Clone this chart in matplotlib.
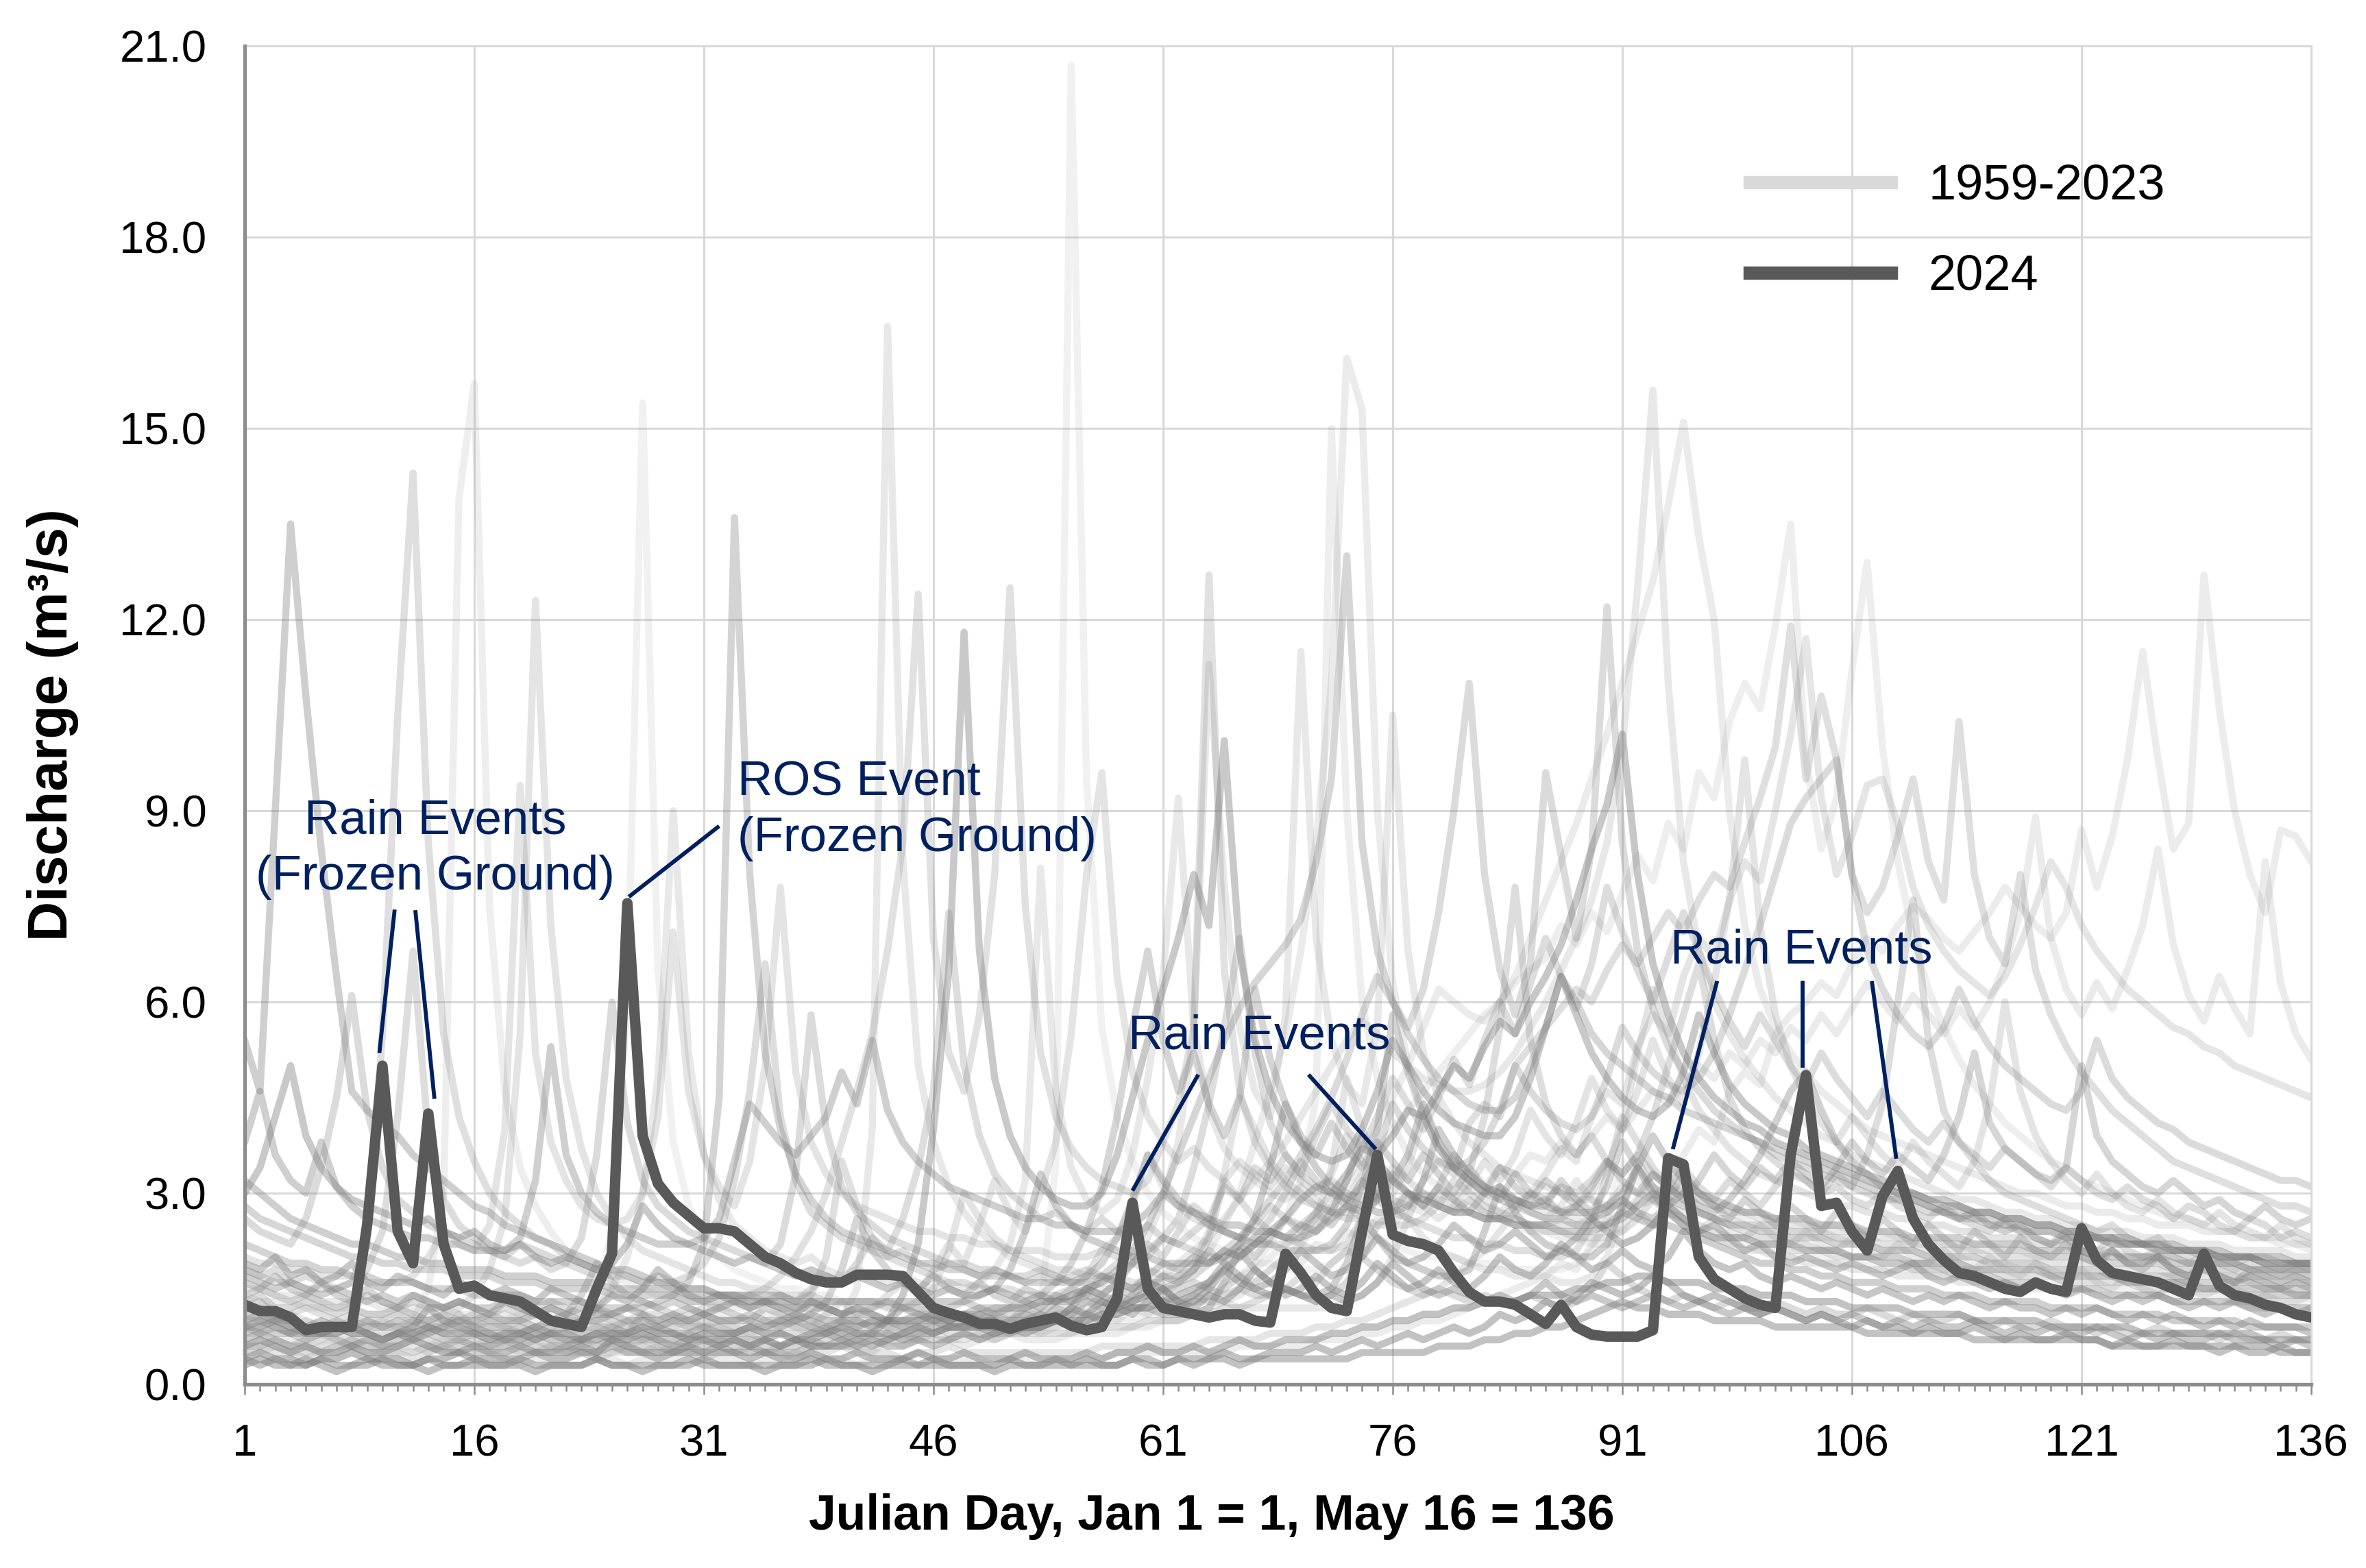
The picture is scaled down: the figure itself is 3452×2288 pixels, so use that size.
import matplotlib
matplotlib.use('Agg')
import matplotlib.pyplot as plt
from matplotlib.lines import Line2D
from matplotlib.ticker import MultipleLocator, FixedLocator, FormatStrFormatter

plt.rcParams['font.family'] = ['Liberation Sans', 'DejaVu Sans']

days = list(range(1, 137))

# 2024 daily discharge (m3/s), Jan 1 .. May 16
q_2024 = [
    1.25, 1.15, 1.15, 1.05, 0.85, 0.9, 0.9, 0.9, 2.5, 5.0, 2.4, 1.9, 4.25, 2.2, 1.5, 1.55, 1.4,
    1.35, 1.3, 1.15, 1.0, 0.95, 0.9, 1.5, 2.05, 7.55, 3.9, 3.15, 2.85, 2.65, 2.45, 2.45, 2.4, 2.2,
    2.0, 1.9, 1.75, 1.65, 1.6, 1.6, 1.72, 1.72, 1.72, 1.7, 1.45, 1.2, 1.12, 1.05, 0.95, 0.95, 0.87,
    0.95, 1.0, 1.05, 0.92, 0.85, 0.9, 1.35, 2.85, 1.5, 1.2, 1.15, 1.1, 1.05, 1.1, 1.1, 1.0, 0.97,
    2.05, 1.75, 1.4, 1.2, 1.15, 2.4, 3.6, 2.35, 2.25, 2.2, 2.1, 1.75, 1.45, 1.3, 1.3, 1.25, 1.1,
    0.95, 1.25, 0.9, 0.78, 0.75, 0.75, 0.75, 0.85, 3.55, 3.45, 2.0, 1.65, 1.5, 1.35, 1.25, 1.2, 3.6,
    4.85, 2.8, 2.85, 2.4, 2.1, 2.95, 3.35, 2.6, 2.2, 1.95, 1.75, 1.7, 1.6, 1.5, 1.45, 1.6, 1.5,
    1.45, 2.45, 1.95, 1.75, 1.7, 1.65, 1.6, 1.5, 1.4, 2.05, 1.55, 1.4, 1.35, 1.25, 1.2, 1.1, 1.05,
]

# a selection of the 1959-2023 years
bg_01 = [
    5.4, 4.6, 9.0, 13.5, 10.8, 8.4, 6.4, 4.6, 4.3, 4.1, 3.9, 3.6, 3.4, 3.2, 3.0, 2.8, 2.7,
    2.5, 2.4, 2.3, 2.2, 2.1, 2.0, 1.9, 1.8, 1.8, 1.7, 1.6, 1.6, 1.5, 1.5, 1.4, 1.4, 1.3,
    1.3, 1.3, 1.2, 1.2, 1.2, 1.1, 1.1, 1.1, 1.0, 1.0, 1.0, 1.0, 0.9, 0.9, 0.9, 0.9, 0.9,
    0.9, 0.9, 1.0, 1.2, 1.5, 1.4, 1.3, 1.2, 1.2, 1.1, 1.1, 1.1, 1.2, 1.6, 2.1, 1.8, 1.6,
    1.5, 1.4, 1.4, 1.5, 1.9, 2.6, 2.3, 2.0, 1.9, 1.8, 1.7, 1.7, 1.8, 2.4, 3.1, 2.7, 2.4,
    2.2, 2.1, 2.0, 2.0, 2.2, 2.8, 3.4, 3.0, 2.7, 2.5, 2.3, 2.2, 2.1, 2.0, 1.9, 1.9, 1.8,
    1.8, 1.7, 1.7, 1.6, 1.6, 1.6, 1.5, 1.5, 1.5, 1.4, 1.4, 1.4, 1.3, 1.3, 1.3, 1.3, 1.2,
    1.2, 1.2, 1.2, 1.1, 1.1, 1.1, 1.1, 1.0, 1.0, 1.0, 1.0, 1.0, 0.9, 0.9, 0.9, 0.9, 0.9,
]
bg_02 = [
    1.8, 1.7, 1.6, 1.6, 1.5, 1.5, 1.5, 1.6, 2.2, 5.5, 10.5, 14.3, 8.5, 5.5, 4.2, 3.5, 3.0,
    2.7, 2.5, 2.3, 2.2, 2.0, 1.9, 1.8, 1.7, 1.7, 1.6, 1.6, 1.5, 1.5, 1.5, 1.4, 1.4, 1.4,
    1.3, 1.3, 1.3, 1.4, 2.0, 3.5, 2.8, 2.3, 2.0, 1.9, 1.8, 1.7, 1.6, 1.6, 1.5, 1.5, 1.5,
    1.4, 1.4, 1.4, 1.5, 1.7, 2.1, 2.0, 1.9, 1.8, 1.7, 1.7, 1.8, 2.3, 3.2, 2.9, 2.6, 2.4,
    2.3, 2.2, 2.1, 2.1, 2.2, 2.6, 3.0, 2.8, 2.6, 2.5, 2.4, 2.3, 2.3, 2.2, 2.2, 2.1, 2.1,
    2.0, 2.0, 2.1, 2.5, 3.3, 4.2, 3.8, 3.4, 3.1, 2.9, 2.7, 2.6, 2.5, 2.4, 2.3, 2.3, 2.2,
    2.2, 2.1, 2.1, 2.0, 2.0, 1.9, 1.9, 1.8, 1.8, 1.8, 1.7, 1.7, 1.7, 1.6, 1.6, 1.6, 1.5,
    1.5, 1.5, 1.5, 1.4, 1.4, 1.4, 1.4, 1.3, 1.3, 1.3, 1.3, 1.3, 1.2, 1.2, 1.2, 1.2, 1.2,
]
bg_03 = [
    0.8, 0.8, 0.8, 0.8, 0.7, 0.7, 0.7, 0.7, 0.7, 0.7, 0.8, 1.0, 1.5, 3.0, 13.9, 15.7, 7.5,
    4.6, 3.4, 2.8, 2.4, 2.1, 1.9, 1.8, 1.7, 1.6, 1.5, 1.4, 1.4, 1.3, 1.3, 1.2, 1.2, 1.2,
    1.1, 1.1, 1.1, 1.1, 1.0, 1.0, 1.0, 1.0, 1.0, 1.0, 0.9, 0.9, 0.9, 0.9, 0.9, 0.9, 0.9,
    0.9, 0.9, 0.9, 0.9, 1.0, 1.0, 1.0, 1.0, 1.1, 1.1, 1.2, 1.3, 1.4, 1.5, 1.7, 1.9, 2.2,
    2.6, 3.2, 4.5, 15.0, 9.0, 6.0, 4.8, 4.1, 3.6, 3.3, 3.1, 2.9, 2.8, 2.7, 2.6, 2.5, 2.4,
    2.4, 2.3, 2.3, 2.2, 2.2, 2.2, 2.3, 2.5, 2.8, 3.2, 3.0, 2.8, 2.7, 2.6, 2.5, 2.5, 2.4,
    2.4, 2.3, 2.3, 2.2, 2.2, 2.1, 2.1, 2.1, 2.0, 2.0, 2.0, 1.9, 1.9, 1.9, 1.8, 1.8, 1.8,
    1.7, 1.7, 1.7, 1.7, 1.6, 1.6, 1.6, 1.6, 1.5, 1.5, 1.5, 1.5, 1.4, 1.4, 1.4, 1.4, 1.4,
]
bg_04 = [
    1.0, 1.0, 1.0, 0.9, 0.9, 0.9, 0.9, 0.9, 0.9, 0.9, 1.0, 1.0, 1.0, 1.1, 1.2, 1.4, 1.8,
    2.6, 5.5, 12.3, 7.2, 4.8, 3.7, 3.0, 2.6, 2.3, 2.1, 2.0, 1.9, 1.8, 1.7, 1.6, 1.6, 1.5,
    1.5, 1.4, 1.4, 1.4, 1.3, 1.3, 1.3, 1.3, 1.2, 1.2, 1.3, 1.5, 2.1, 3.0, 2.6, 2.3, 2.1,
    2.0, 1.9, 1.8, 1.8, 1.7, 1.7, 1.7, 1.6, 1.6, 1.6, 1.7, 1.9, 2.4, 3.3, 4.5, 4.0, 3.5,
    3.2, 3.0, 2.8, 2.7, 2.7, 2.8, 3.0, 3.4, 3.2, 3.0, 2.9, 2.8, 2.7, 2.6, 2.6, 2.5, 2.5,
    2.5, 2.6, 2.8, 3.0, 3.4, 4.0, 5.2, 6.2, 5.5, 4.8, 4.3, 4.0, 3.7, 3.5, 3.3, 3.2, 3.1,
    3.0, 2.9, 2.8, 2.8, 2.7, 2.7, 2.6, 2.6, 2.5, 2.5, 2.4, 2.4, 2.3, 2.3, 2.3, 2.2, 2.2,
    2.2, 2.1, 2.1, 2.1, 2.0, 2.0, 2.0, 2.0, 1.9, 1.9, 1.9, 1.9, 1.8, 1.8, 1.8, 1.8, 1.8,
]
bg_05 = [
    0.6, 0.7, 0.6, 0.6, 0.5, 0.6, 0.6, 0.7, 0.6, 0.6, 0.6, 0.5, 0.6, 0.7, 0.7, 0.6, 0.7,
    0.7, 0.7, 0.7, 0.8, 0.8, 0.9, 1.2, 2.5, 6.0, 15.4, 6.5, 3.8, 2.8, 2.3, 2.0, 1.8, 1.7,
    1.6, 1.5, 1.5, 1.4, 1.4, 1.3, 1.3, 1.3, 1.2, 1.2, 1.2, 1.2, 1.1, 1.1, 1.1, 1.1, 1.1,
    1.1, 1.2, 3.5, 20.7, 9.5, 5.6, 4.2, 3.5, 3.0, 2.7, 2.5, 2.3, 2.2, 2.1, 2.0, 1.9, 1.9,
    1.8, 1.8, 1.8, 1.9, 2.1, 2.4, 2.3, 2.2, 2.1, 2.0, 2.0, 2.0, 1.9, 1.9, 1.9, 1.8, 1.8,
    1.8, 1.8, 1.9, 2.1, 2.6, 3.5, 3.2, 2.9, 2.7, 2.5, 2.4, 2.3, 2.2, 2.2, 2.1, 2.1, 2.0,
    2.0, 2.0, 1.9, 1.9, 1.9, 1.8, 1.8, 1.8, 1.8, 1.7, 1.7, 1.7, 1.7, 1.6, 1.6, 1.6, 1.6,
    1.5, 1.5, 1.5, 1.5, 1.5, 1.4, 1.4, 1.4, 1.4, 1.4, 1.4, 1.3, 1.3, 1.3, 1.3, 1.3, 1.3,
]
bg_06 = [
    2.2, 2.1, 2.0, 1.9, 1.9, 1.8, 1.8, 1.7, 1.7, 1.6, 1.6, 1.6, 1.5, 1.5, 1.5, 1.4, 1.4,
    1.4, 1.4, 1.3, 1.3, 1.3, 1.3, 1.2, 1.2, 1.2, 1.2, 1.3, 1.4, 1.6, 2.2, 4.5, 13.6, 8.0,
    5.2, 4.0, 3.3, 2.9, 2.6, 2.4, 2.3, 2.2, 2.1, 2.0, 1.9, 1.9, 1.8, 1.8, 1.7, 1.7, 1.7,
    1.6, 1.6, 1.6, 1.6, 1.7, 1.9, 2.3, 2.9, 3.6, 3.2, 2.9, 2.7, 2.5, 2.4, 2.3, 2.2, 2.2,
    2.1, 2.1, 2.1, 2.2, 2.5, 3.1, 4.0, 5.8, 4.9, 4.2, 3.7, 3.4, 3.2, 3.0, 2.9, 2.8, 2.7,
    2.6, 2.6, 2.5, 2.5, 2.5, 2.6, 2.8, 3.0, 2.9, 2.8, 2.7, 2.6, 2.5, 2.5, 2.4, 2.4, 2.3,
    2.3, 2.3, 2.2, 2.2, 2.2, 2.1, 2.1, 2.1, 2.0, 2.0, 2.0, 2.0, 1.9, 1.9, 1.9, 1.9, 1.8,
    1.8, 1.8, 1.8, 1.7, 1.7, 1.7, 1.7, 1.7, 1.6, 1.6, 1.6, 1.6, 1.6, 1.5, 1.5, 1.5, 1.5,
]
bg_07 = [
    0.5, 0.5, 0.6, 0.5, 0.5, 0.5, 0.6, 0.7, 0.6, 0.5, 0.5, 0.5, 0.6, 0.5, 0.5, 0.5, 0.5,
    0.6, 0.5, 0.5, 0.5, 0.6, 0.5, 0.5, 0.5, 0.6, 0.7, 0.6, 0.5, 0.6, 0.6, 0.6, 0.7, 0.6,
    0.6, 0.6, 0.7, 0.7, 0.8, 1.0, 1.5, 4.0, 16.6, 8.2, 5.0, 3.8, 3.1, 2.7, 2.4, 2.2, 2.0,
    1.9, 1.8, 1.7, 1.6, 1.6, 1.5, 1.5, 1.4, 1.4, 1.4, 1.3, 1.3, 1.3, 1.3, 1.2, 1.2, 1.2,
    1.2, 1.2, 1.2, 1.2, 1.3, 1.4, 1.6, 2.0, 2.6, 2.3, 2.1, 2.0, 1.9, 1.8, 1.8, 1.7, 1.7,
    1.7, 1.6, 1.6, 1.7, 2.0, 2.7, 3.5, 3.1, 2.8, 2.6, 2.4, 2.3, 2.2, 2.1, 2.1, 2.0, 2.0,
    1.9, 1.9, 1.9, 1.8, 1.8, 1.8, 1.7, 1.7, 1.7, 1.7, 1.6, 1.6, 1.6, 1.6, 1.5, 1.5, 1.5,
    1.5, 1.5, 1.4, 1.4, 1.4, 1.4, 1.4, 1.3, 1.3, 1.3, 1.3, 1.3, 1.3, 1.2, 1.2, 1.2, 1.2,
]
bg_08 = [
    1.2, 1.3, 1.1, 1.1, 1.2, 1.1, 1.0, 1.1, 1.0, 1.0, 1.1, 1.0, 0.9, 1.0, 1.0, 1.1, 1.0,
    1.0, 1.0, 0.9, 1.0, 1.1, 1.0, 1.0, 0.9, 1.0, 1.1, 1.1, 1.0, 1.1, 1.2, 1.2, 1.3, 1.4,
    1.5, 1.7, 2.0, 2.4, 3.0, 3.8, 4.6, 5.5, 6.8, 8.5, 12.4, 7.0, 5.2, 4.6, 5.8, 8.0, 12.5,
    7.5, 5.2, 4.2, 3.7, 3.4, 3.2, 3.1, 3.0, 3.2, 3.8, 4.4, 5.6, 12.7, 6.5, 4.6, 3.8, 3.4,
    3.1, 2.9, 2.8, 2.7, 2.6, 2.6, 2.5, 2.5, 2.5, 2.6, 2.8, 3.2, 3.0, 2.8, 2.7, 2.6, 2.5,
    2.4, 2.4, 2.3, 2.3, 2.3, 2.4, 2.6, 2.9, 2.7, 2.6, 2.5, 2.4, 2.3, 2.3, 2.2, 2.2, 2.1,
    2.1, 2.1, 2.0, 2.0, 2.0, 1.9, 1.9, 1.9, 1.9, 1.8, 1.8, 1.8, 1.8, 1.7, 1.7, 1.7, 1.7,
    1.6, 1.6, 1.6, 1.6, 1.6, 1.5, 1.5, 1.5, 1.5, 1.5, 1.5, 1.4, 1.4, 1.4, 1.4, 1.4, 1.4,
]
bg_09 = [
    0.4, 0.5, 0.4, 0.4, 0.3, 0.4, 0.4, 0.5, 0.4, 0.4, 0.4, 0.3, 0.4, 0.4, 0.5, 0.4, 0.4,
    0.4, 0.4, 0.5, 0.4, 0.4, 0.5, 0.5, 0.6, 0.5, 0.5, 0.4, 0.5, 0.5, 0.5, 0.6, 0.5, 0.5,
    0.5, 0.5, 0.5, 0.6, 0.6, 0.6, 0.7, 0.8, 1.0, 1.4, 2.2, 4.0, 6.5, 11.8, 6.8, 4.8, 3.9,
    3.4, 3.1, 2.9, 2.8, 2.8, 3.0, 3.6, 4.5, 5.4, 6.2, 7.0, 8.0, 7.2, 10.1, 6.8, 5.4, 4.6,
    4.1, 3.8, 3.6, 3.5, 3.6, 4.0, 4.6, 5.4, 5.0, 4.6, 4.3, 4.1, 4.0, 3.9, 3.9, 4.2, 4.8,
    5.6, 6.4, 5.8, 5.2, 4.8, 4.5, 4.3, 4.2, 4.4, 4.9, 5.8, 5.2, 4.7, 4.4, 4.2, 4.0, 3.9,
    3.7, 3.6, 3.5, 3.4, 3.3, 3.2, 3.1, 3.0, 2.9, 2.9, 2.8, 2.7, 2.7, 2.6, 2.6, 2.5, 2.5,
    2.4, 2.4, 2.3, 2.3, 2.2, 2.2, 2.2, 2.1, 2.1, 2.1, 2.0, 2.0, 2.0, 1.9, 1.9, 1.9, 1.9,
]
bg_10 = [
    1.5, 1.5, 1.4, 1.4, 1.4, 1.3, 1.3, 1.3, 1.3, 1.2, 1.2, 1.2, 1.2, 1.2, 1.1, 1.1, 1.1,
    1.1, 1.0, 1.1, 1.1, 1.0, 1.0, 1.1, 1.0, 0.9, 1.0, 1.0, 1.1, 1.0, 0.9, 1.0, 0.9, 0.9,
    1.0, 0.9, 0.9, 0.8, 0.9, 0.9, 1.0, 0.9, 0.9, 0.8, 0.9, 0.9, 1.0, 0.9, 0.9, 0.9, 0.8,
    0.9, 0.9, 1.0, 1.0, 1.0, 1.1, 1.1, 1.2, 1.3, 1.4, 1.6, 1.8, 2.1, 2.5, 3.0, 3.8, 4.6,
    5.5, 6.8, 8.5, 11.0, 16.1, 15.3, 9.0, 6.3, 5.0, 4.3, 3.8, 3.5, 3.3, 3.1, 3.0, 2.9, 2.8,
    2.7, 2.7, 2.6, 2.6, 2.6, 2.7, 2.9, 3.3, 3.1, 3.0, 2.9, 2.8, 2.8, 2.7, 2.7, 2.6, 2.6,
    2.5, 2.5, 2.5, 2.4, 2.4, 2.4, 2.3, 2.3, 2.3, 2.2, 2.2, 2.2, 2.2, 2.1, 2.1, 2.1, 2.0,
    2.0, 2.0, 2.0, 1.9, 1.9, 1.9, 1.9, 1.8, 1.8, 1.8, 1.8, 1.7, 1.7, 1.7, 1.7, 1.7, 1.6,
]
bg_11 = [
    2.8, 2.6, 2.5, 2.4, 2.3, 2.2, 2.1, 2.0, 2.0, 1.9, 1.9, 1.8, 1.8, 1.8, 1.7, 1.7, 1.7,
    1.6, 1.6, 1.6, 1.5, 1.5, 1.5, 1.5, 1.4, 1.4, 1.4, 1.4, 1.4, 1.3, 1.3, 1.3, 1.3, 1.3,
    1.3, 1.2, 1.2, 1.3, 1.2, 1.1, 1.2, 1.2, 1.3, 1.2, 1.2, 1.1, 1.2, 1.3, 1.2, 1.2, 1.2,
    1.2, 1.3, 1.3, 1.4, 1.5, 1.6, 1.8, 2.1, 2.5, 3.0, 3.6, 4.2, 4.8, 5.4, 5.9, 6.3, 6.6,
    6.9, 7.3, 8.2, 9.5, 13.0, 8.5, 6.8, 6.0, 5.5, 5.1, 4.8, 4.6, 4.4, 4.3, 4.3, 4.5, 5.0,
    5.6, 6.4, 6.0, 5.5, 5.2, 5.0, 4.8, 4.6, 4.5, 4.3, 4.2, 4.1, 4.0, 3.9, 3.8, 3.7, 3.6,
    3.5, 3.4, 3.3, 3.2, 3.1, 3.0, 2.9, 2.9, 2.8, 2.7, 2.7, 2.6, 2.6, 2.5, 2.5, 2.4, 2.4,
    2.3, 2.3, 2.3, 2.2, 2.2, 2.2, 2.1, 2.1, 2.1, 2.0, 2.0, 2.0, 2.0, 1.9, 1.9, 1.9, 1.9,
]
bg_12 = [
    0.9, 0.9, 1.0, 0.9, 0.8, 0.8, 0.9, 0.8, 0.8, 0.7, 0.8, 0.8, 0.9, 0.8, 0.8, 0.8, 0.7,
    0.8, 0.8, 0.9, 0.8, 0.8, 0.7, 0.8, 0.8, 0.8, 0.9, 0.8, 0.8, 0.7, 0.8, 0.8, 0.8, 0.9,
    0.8, 0.8, 0.7, 0.8, 0.8, 0.9, 0.8, 0.8, 0.8, 0.7, 0.8, 0.8, 0.9, 0.9, 0.9, 0.8, 0.9,
    0.9, 0.9, 1.0, 1.0, 1.0, 1.1, 1.1, 1.2, 1.2, 1.3, 1.4, 1.5, 1.6, 1.8, 2.0, 2.2, 2.4,
    2.6, 2.9, 3.1, 3.0, 3.3, 3.7, 3.6, 3.9, 4.3, 4.2, 4.6, 5.0, 4.8, 5.3, 5.7, 5.5, 6.0,
    6.4, 6.9, 7.6, 8.4, 9.1, 10.2, 8.0, 6.6, 5.8, 5.2, 4.8, 4.5, 4.3, 4.1, 4.0, 3.8, 3.7,
    3.6, 3.5, 3.4, 3.3, 3.2, 3.1, 3.0, 3.0, 2.9, 2.8, 2.8, 2.7, 2.7, 2.6, 2.6, 2.5, 2.5,
    2.4, 2.4, 2.3, 2.3, 2.3, 2.2, 2.2, 2.2, 2.1, 2.1, 2.1, 2.0, 2.0, 2.0, 2.0, 1.9, 1.9,
]
bg_13 = [
    1.1, 1.2, 1.0, 1.1, 1.0, 0.9, 1.0, 0.9, 1.0, 0.9, 0.9, 1.0, 0.9, 0.8, 0.9, 0.9, 1.0,
    0.9, 0.9, 0.8, 0.9, 0.9, 1.0, 1.2, 1.0, 0.9, 0.9, 0.8, 0.9, 0.9, 1.0, 0.9, 0.9, 0.8,
    0.9, 0.9, 1.0, 0.9, 0.9, 0.8, 0.9, 0.9, 1.0, 1.0, 1.1, 1.0, 1.0, 1.1, 1.0, 1.1, 1.1,
    1.1, 1.1, 1.2, 1.2, 1.3, 1.3, 1.4, 1.5, 1.6, 1.7, 1.9, 2.1, 2.3, 2.6, 2.9, 3.2, 3.5,
    3.8, 4.2, 4.6, 5.0, 5.4, 5.7, 5.5, 5.2, 5.0, 4.8, 4.7, 4.6, 4.6, 4.7, 4.9, 5.2, 5.6,
    6.0, 6.5, 7.0, 7.6, 8.5, 10.0, 12.5, 15.6, 11.0, 8.2, 6.8, 6.0, 5.5, 5.1, 4.8, 4.5, 4.3,
    4.1, 3.9, 3.8, 3.6, 3.5, 3.4, 3.3, 3.2, 3.1, 3.0, 2.9, 2.9, 2.8, 2.7, 2.7, 2.6, 2.6,
    2.5, 2.5, 2.4, 2.4, 2.4, 2.3, 2.3, 2.3, 2.2, 2.2, 2.2, 2.1, 2.1, 2.1, 2.1, 2.0, 2.0,
]
bg_14 = [
    0.7, 0.8, 0.7, 0.7, 0.6, 0.7, 0.8, 0.7, 0.7, 0.6, 0.7, 0.7, 0.9, 0.8, 0.7, 0.7, 0.6,
    0.7, 0.7, 0.8, 0.7, 0.6, 0.7, 0.7, 0.8, 1.0, 0.8, 0.7, 0.7, 0.6, 0.7, 0.7, 0.8, 0.7,
    0.7, 0.6, 0.7, 0.7, 0.8, 0.7, 0.7, 0.6, 0.7, 0.8, 0.7, 0.7, 0.7, 0.6, 0.7, 0.7, 0.8,
    0.7, 0.7, 0.7, 0.8, 0.8, 0.8, 0.8, 0.9, 0.9, 1.0, 1.0, 1.1, 1.2, 1.3, 1.4, 1.6, 1.8,
    2.0, 2.2, 2.5, 2.8, 3.2, 3.6, 4.0, 4.5, 5.0, 5.6, 6.2, 6.0, 5.8, 5.7, 6.0, 6.4, 7.0,
    7.6, 8.2, 8.8, 9.5, 10.2, 11.0, 11.8, 12.6, 13.8, 15.1, 13.3, 12.0, 9.0, 7.2, 6.2, 5.6, 5.2,
    4.9, 4.6, 4.4, 4.2, 4.0, 3.9, 3.8, 3.7, 3.6, 3.5, 3.4, 3.3, 3.2, 3.1, 3.0, 3.0, 2.9,
    2.8, 2.8, 2.7, 2.7, 2.6, 2.6, 2.5, 2.5, 2.5, 2.4, 2.4, 2.4, 2.3, 2.3, 2.3, 2.2, 2.2,
]
bg_15 = [
    1.4, 1.3, 1.3, 1.3, 1.2, 1.2, 1.2, 1.2, 1.1, 1.1, 1.1, 1.1, 1.1, 1.0, 1.0, 1.0, 1.0,
    1.0, 1.1, 1.0, 1.0, 0.9, 1.0, 1.0, 1.1, 1.0, 1.0, 1.0, 0.9, 1.0, 1.0, 1.1, 1.0, 1.0,
    1.0, 0.9, 1.0, 1.0, 1.1, 1.0, 1.0, 1.0, 0.9, 1.0, 1.0, 1.1, 1.0, 1.0, 1.0, 0.9, 1.0,
    1.0, 1.0, 1.0, 1.0, 1.1, 1.1, 1.1, 1.2, 1.2, 1.3, 1.3, 1.4, 1.5, 1.6, 1.7, 1.8, 2.0,
    2.2, 2.4, 2.6, 2.8, 3.1, 3.4, 3.7, 4.0, 4.3, 4.6, 4.9, 5.2, 5.5, 5.8, 6.0, 6.3, 6.5,
    6.7, 7.2, 6.9, 7.4, 7.1, 7.7, 8.3, 7.9, 8.8, 8.4, 9.6, 9.2, 10.4, 11.0, 10.6, 11.9, 13.5,
    9.8, 8.4, 9.2, 11.2, 12.9, 10.0, 8.2, 7.0, 6.2, 5.6, 5.1, 4.7, 4.4, 4.1, 3.9, 3.7, 3.5,
    3.4, 3.2, 3.1, 3.0, 2.9, 2.8, 2.7, 2.6, 2.6, 2.5, 2.4, 2.4, 2.3, 2.3, 2.2, 2.2, 2.1,
]
bg_16 = [
    0.5, 0.6, 0.5, 0.5, 0.4, 0.5, 0.5, 0.6, 0.5, 0.5, 0.5, 0.4, 0.5, 0.6, 0.5, 0.5, 0.5,
    0.4, 0.5, 0.5, 0.6, 0.5, 0.5, 0.4, 0.5, 0.5, 0.5, 0.6, 0.5, 0.5, 0.4, 0.5, 0.5, 0.6,
    0.5, 0.5, 0.4, 0.5, 0.5, 0.6, 0.5, 0.5, 0.5, 0.4, 0.5, 0.5, 0.6, 0.5, 0.5, 0.5, 0.5,
    0.5, 0.5, 0.5, 0.5, 0.5, 0.6, 0.6, 0.6, 0.6, 0.6, 0.6, 0.6, 0.7, 0.7, 0.7, 0.7, 0.8,
    0.8, 0.8, 0.9, 0.9, 1.0, 1.0, 1.1, 1.2, 1.3, 1.4, 1.5, 1.7, 1.9, 2.1, 2.4, 2.7, 3.0,
    3.3, 3.7, 3.5, 4.2, 4.6, 4.4, 5.3, 5.8, 5.5, 6.4, 7.0, 6.7, 7.6, 8.2, 7.9, 9.0, 10.2,
    11.7, 9.2, 8.0, 8.6, 9.4, 9.5, 8.8, 7.8, 7.2, 6.8, 6.5, 6.3, 6.1, 6.4, 6.9, 7.5, 8.2,
    7.8, 7.2, 6.8, 6.5, 6.2, 6.0, 5.8, 5.6, 5.5, 5.3, 5.2, 5.0, 4.9, 4.8, 4.7, 4.6, 4.5,
]
bg_17 = [
    2.0, 1.9, 1.9, 1.8, 1.8, 1.7, 1.7, 1.7, 1.6, 1.6, 1.6, 1.7, 2.0, 2.4, 2.2, 2.1, 2.5,
    4.0, 9.4, 5.2, 3.8, 3.2, 2.8, 2.6, 2.5, 2.6, 3.0, 4.2, 7.1, 4.6, 3.6, 3.1, 2.8, 3.5,
    5.0, 7.8, 4.9, 3.8, 3.3, 3.0, 2.8, 2.7, 2.6, 2.5, 2.4, 2.4, 2.3, 2.3, 2.2, 2.2, 2.1,
    2.1, 2.1, 2.0, 2.0, 2.0, 2.1, 2.3, 2.8, 3.6, 3.1, 2.8, 2.6, 2.5, 2.4, 2.3, 2.3, 2.2,
    2.2, 2.3, 2.6, 3.4, 4.8, 4.0, 3.5, 3.2, 3.0, 2.9, 2.8, 2.7, 2.7, 2.6, 2.6, 2.6, 2.5,
    2.5, 2.5, 2.5, 2.6, 2.8, 3.1, 3.0, 2.9, 2.8, 2.7, 2.7, 2.6, 2.6, 2.5, 2.5, 2.5, 2.4,
    2.4, 2.4, 2.3, 2.3, 2.3, 2.2, 2.2, 2.2, 2.1, 2.1, 2.1, 2.1, 2.0, 2.0, 2.0, 2.0, 1.9,
    1.9, 1.9, 1.9, 1.8, 1.8, 1.8, 1.8, 1.7, 1.7, 1.7, 1.7, 1.7, 1.6, 1.6, 1.6, 1.6, 1.6,
]
bg_18 = [
    3.8, 4.6, 3.6, 3.2, 3.0, 3.8, 3.1, 2.8, 2.6, 2.5, 2.4, 2.3, 2.3, 2.2, 2.2, 2.1, 2.1,
    2.1, 2.3, 3.2, 5.3, 3.6, 3.0, 2.7, 2.5, 2.4, 2.3, 2.2, 2.2, 2.2, 2.3, 2.6, 3.5, 4.4,
    4.1, 3.8, 3.6, 3.9, 4.2, 4.9, 4.4, 5.4, 4.3, 3.8, 3.5, 3.3, 3.1, 3.0, 2.9, 2.8, 2.7,
    2.6, 2.6, 2.5, 2.5, 2.4, 2.4, 2.4, 2.5, 2.7, 3.0, 2.8, 2.7, 2.6, 2.5, 2.5, 2.4, 2.4,
    2.3, 2.3, 2.4, 2.7, 3.2, 3.9, 3.5, 3.2, 3.0, 2.9, 2.8, 2.7, 2.7, 2.6, 2.6, 2.5, 2.5,
    2.5, 2.4, 2.4, 2.4, 2.5, 2.7, 2.6, 2.5, 2.5, 2.4, 2.4, 2.3, 2.3, 2.3, 2.2, 2.2, 2.2,
    2.1, 2.1, 2.1, 2.0, 2.0, 2.0, 2.0, 1.9, 1.9, 1.9, 1.9, 1.8, 1.8, 1.8, 1.8, 1.8, 1.7,
    1.7, 1.7, 1.7, 1.7, 1.6, 1.6, 1.6, 1.6, 1.6, 1.5, 1.5, 1.5, 1.5, 1.5, 1.5, 1.4, 1.4,
]
bg_19 = [
    0.6, 0.6, 0.7, 0.6, 0.6, 0.5, 0.6, 0.6, 0.7, 0.6, 0.6, 0.6, 0.5, 0.6, 0.6, 0.7, 0.6,
    0.6, 0.6, 0.6, 0.5, 0.6, 0.6, 0.7, 0.6, 0.6, 0.6, 0.5, 0.6, 0.6, 0.7, 0.6, 0.6, 0.6,
    0.5, 0.6, 0.6, 0.7, 0.6, 0.6, 0.6, 0.5, 0.7, 0.7, 0.7, 0.8, 0.7, 0.7, 0.8, 0.8, 0.8,
    0.9, 0.9, 1.0, 1.1, 1.2, 1.4, 1.6, 1.9, 2.3, 2.9, 3.8, 5.5, 11.3, 7.8, 5.6, 4.6, 4.2,
    5.8, 11.5, 7.0, 5.4, 4.7, 4.4, 5.6, 10.5, 6.8, 5.2, 4.5, 4.1, 3.8, 3.6, 3.4, 3.3, 3.2,
    3.1, 3.0, 2.9, 2.9, 2.8, 2.8, 2.8, 2.9, 3.2, 3.0, 2.9, 2.8, 2.7, 2.7, 2.6, 2.6, 2.5,
    2.5, 2.4, 2.4, 2.4, 2.3, 2.3, 2.3, 2.2, 2.2, 2.2, 2.2, 2.1, 2.1, 2.1, 2.1, 2.0, 2.0,
    2.0, 2.0, 1.9, 1.9, 1.9, 1.9, 1.9, 1.8, 1.8, 1.8, 1.8, 1.8, 1.7, 1.7, 1.7, 1.7, 1.7,
]
bg_20 = [
    1.0, 1.1, 1.0, 1.0, 0.9, 1.0, 0.9, 0.9, 1.0, 0.9, 0.9, 0.8, 0.9, 0.9, 1.0, 0.9, 0.9,
    0.9, 0.8, 0.9, 0.9, 1.0, 0.9, 0.9, 0.9, 0.8, 0.9, 0.9, 1.0, 0.9, 0.9, 0.9, 0.8, 0.9,
    0.9, 1.0, 0.9, 0.9, 0.8, 0.9, 0.9, 1.0, 0.9, 0.9, 0.9, 1.0, 1.0, 1.1, 1.0, 1.0, 1.0,
    1.0, 1.0, 1.1, 1.1, 1.1, 1.2, 1.2, 1.3, 1.4, 1.5, 1.6, 1.7, 1.9, 2.1, 2.3, 2.6, 2.9,
    3.2, 3.6, 4.0, 4.5, 5.1, 5.8, 6.4, 6.0, 5.6, 6.2, 7.4, 9.0, 11.0, 8.0, 6.5, 5.8, 6.6,
    9.6, 8.3, 7.0, 8.4, 12.2, 8.5, 6.8, 5.9, 5.3, 4.9, 4.6, 4.3, 4.1, 3.9, 3.8, 3.6, 3.5,
    3.4, 3.3, 3.2, 3.1, 3.0, 2.9, 2.9, 2.8, 2.7, 2.7, 2.6, 2.6, 2.5, 2.5, 2.4, 2.4, 2.4,
    2.3, 2.3, 2.3, 2.2, 2.2, 2.2, 2.1, 2.1, 2.1, 2.1, 2.0, 2.0, 2.0, 2.0, 1.9, 1.9, 1.9,
]
bg_21 = [
    0.8, 0.9, 0.8, 0.8, 0.7, 0.8, 0.8, 0.9, 0.8, 0.8, 0.8, 0.7, 0.8, 0.9, 1.1, 0.9, 0.8,
    0.8, 0.8, 0.7, 0.8, 0.8, 0.8, 0.9, 0.8, 0.8, 0.7, 0.8, 0.8, 0.8, 0.9, 0.8, 0.8, 0.8,
    0.7, 0.8, 0.8, 0.8, 0.9, 0.8, 0.8, 0.7, 0.8, 0.8, 0.8, 0.9, 0.8, 0.8, 0.8, 0.7, 0.8,
    0.8, 0.8, 0.8, 0.8, 0.9, 0.9, 0.9, 0.9, 1.0, 1.0, 1.0, 1.1, 1.1, 1.2, 1.2, 1.3, 1.4,
    1.5, 1.7, 1.6, 1.9, 2.1, 2.0, 2.5, 2.7, 2.6, 3.2, 3.5, 3.3, 4.1, 4.4, 4.2, 5.0, 5.3,
    5.6, 5.9, 6.2, 6.0, 6.5, 6.9, 6.6, 7.0, 7.4, 7.1, 7.6, 8.0, 7.8, 8.5, 9.2, 10.0, 11.9,
    9.5, 10.8, 9.8, 8.0, 7.4, 7.8, 8.6, 9.5, 8.2, 7.6, 10.4, 8.0, 7.0, 6.6, 8.0, 6.5, 5.8,
    5.3, 4.9, 4.6, 4.3, 4.1, 3.9, 3.7, 3.5, 3.4, 3.3, 3.2, 3.1, 3.0, 2.9, 2.8, 2.8, 2.7,
]
bg_22 = [
    0.4, 0.5, 0.4, 0.4, 0.3, 0.4, 0.4, 0.5, 0.4, 0.4, 0.4, 0.3, 0.4, 0.4, 0.5, 0.4, 0.4,
    0.4, 0.3, 0.4, 0.4, 0.4, 0.5, 0.4, 0.4, 0.3, 0.4, 0.4, 0.4, 0.5, 0.4, 0.4, 0.4, 0.3,
    0.4, 0.4, 0.5, 0.4, 0.4, 0.4, 0.3, 0.4, 0.4, 0.4, 0.5, 0.4, 0.4, 0.4, 0.4, 0.3, 0.4,
    0.4, 0.4, 0.4, 0.4, 0.4, 0.4, 0.5, 0.5, 0.5, 0.5, 0.5, 0.5, 0.5, 0.5, 0.6, 0.6, 0.6,
    0.6, 0.6, 0.7, 0.7, 0.7, 0.8, 0.8, 0.9, 0.9, 1.0, 1.0, 1.1, 1.2, 1.3, 1.4, 1.5, 1.6,
    1.7, 1.9, 1.8, 2.2, 2.5, 2.4, 2.9, 3.1, 3.0, 3.6, 4.0, 3.8, 4.6, 4.9, 4.7, 5.5, 5.8,
    6.0, 6.3, 6.1, 6.6, 7.0, 6.8, 7.2, 7.5, 7.3, 7.0, 6.8, 7.1, 7.4, 7.8, 7.5, 7.2, 7.0,
    7.4, 8.7, 7.8, 8.6, 9.8, 11.5, 9.8, 8.4, 8.8, 12.7, 10.6, 9.0, 8.0, 7.4, 8.7, 8.6, 8.2,
]
bg_23 = [
    1.3, 1.4, 1.2, 1.2, 1.3, 1.2, 1.1, 1.2, 1.1, 1.1, 1.2, 1.1, 1.0, 1.1, 1.0, 1.0, 1.1,
    1.0, 1.0, 1.1, 1.0, 0.9, 1.0, 1.0, 1.1, 1.0, 1.0, 0.9, 1.0, 1.0, 1.1, 1.0, 1.0, 1.0,
    0.9, 1.0, 1.0, 1.1, 1.0, 1.0, 0.9, 1.0, 1.0, 1.0, 1.1, 1.1, 1.0, 1.1, 1.1, 1.2, 1.2,
    1.2, 1.3, 1.3, 1.4, 1.5, 1.6, 1.7, 1.9, 2.1, 2.3, 2.2, 2.1, 2.0, 2.0, 2.1, 2.3, 2.6,
    3.0, 3.5, 3.2, 3.0, 2.9, 3.1, 3.6, 4.4, 4.0, 3.7, 3.5, 3.4, 3.5, 3.8, 4.3, 5.0, 4.6,
    4.3, 4.1, 4.0, 4.2, 4.8, 5.6, 5.2, 4.9, 4.7, 4.6, 4.8, 5.2, 5.8, 6.5, 7.2, 8.0, 8.8,
    9.2, 9.5, 9.8, 8.0, 6.8, 6.2, 5.8, 5.5, 5.3, 5.6, 6.2, 5.7, 5.3, 5.0, 4.8, 4.6, 4.4,
    4.3, 4.6, 5.4, 4.8, 4.5, 4.3, 4.1, 4.0, 3.8, 3.7, 3.6, 3.5, 3.4, 3.3, 3.2, 3.2, 3.1,
]
bg_24 = [
    0.6, 0.7, 0.6, 0.5, 0.6, 0.5, 0.5, 0.6, 0.5, 0.5, 0.6, 0.7, 0.6, 0.5, 0.5, 0.6, 0.5,
    0.5, 0.6, 0.5, 0.5, 0.5, 0.6, 0.5, 0.7, 0.6, 0.5, 0.5, 0.5, 0.6, 0.5, 0.5, 0.5, 0.4,
    0.5, 0.4, 0.4, 0.5, 0.4, 0.4, 0.5, 0.4, 0.4, 0.4, 0.5, 0.4, 0.4, 0.5, 0.4, 0.4, 0.4,
    0.5, 0.4, 0.4, 0.4, 0.5, 0.4, 0.5, 0.5, 0.6, 0.5, 0.5, 0.6, 0.5, 0.6, 0.7, 0.6, 0.6,
    0.7, 0.7, 0.7, 0.8, 0.8, 0.9, 0.9, 1.0, 1.0, 1.1, 1.1, 1.2, 1.2, 1.3, 1.3, 1.3, 1.4,
    1.4, 1.4, 1.5, 1.5, 1.6, 1.6, 1.7, 1.7, 1.6, 1.6, 1.6, 1.5, 1.5, 1.5, 1.4, 1.4, 1.4,
    1.3, 1.3, 1.3, 1.2, 1.2, 1.2, 1.2, 1.1, 1.1, 1.1, 1.1, 1.0, 1.0, 1.0, 1.0, 1.0, 0.9,
    0.9, 0.9, 0.9, 0.9, 0.9, 0.8, 0.8, 0.8, 0.8, 0.8, 0.8, 0.8, 0.8, 0.7, 0.7, 0.7, 0.7,
]
bg_25 = [
    3.2, 3.0, 2.8, 2.6, 2.5, 2.4, 2.3, 2.2, 2.2, 2.1, 2.0, 2.0, 1.9, 1.9, 1.8, 1.8, 1.8,
    1.7, 1.7, 1.7, 1.6, 1.6, 1.6, 1.6, 1.5, 1.5, 1.5, 1.5, 1.5, 1.4, 1.4, 1.4, 1.4, 1.4,
    1.4, 1.4, 1.3, 1.3, 1.3, 1.3, 1.3, 1.3, 1.3, 1.3, 1.3, 1.3, 1.3, 1.3, 1.4, 1.5, 1.8,
    2.4, 3.3, 2.8, 2.5, 2.3, 2.2, 2.1, 2.0, 2.0, 1.9, 1.9, 1.9, 1.9, 2.0, 2.2, 2.6, 3.4,
    4.4, 3.8, 3.4, 3.1, 2.9, 2.8, 2.7, 2.7, 2.8, 3.2, 4.0, 3.6, 3.3, 3.1, 3.0, 2.9, 2.8,
    2.8, 2.7, 2.7, 2.7, 2.8, 3.0, 3.4, 3.9, 3.5, 3.2, 3.0, 2.9, 2.8, 2.7, 2.7, 2.6, 2.6,
    2.6, 2.5, 2.5, 2.5, 2.4, 2.4, 2.4, 2.3, 2.3, 2.3, 2.3, 2.2, 2.2, 2.2, 2.2, 2.1, 2.1,
    2.1, 2.1, 2.0, 2.0, 2.0, 2.0, 2.0, 1.9, 1.9, 1.9, 1.9, 1.9, 1.8, 1.8, 1.8, 1.8, 1.8,
]
bg_26 = [
    0.3, 0.4, 0.3, 0.3, 0.4, 0.3, 0.2, 0.3, 0.3, 0.4, 0.3, 0.3, 0.2, 0.3, 0.3, 0.4, 0.3,
    0.3, 0.3, 0.2, 0.3, 0.3, 0.3, 0.4, 0.3, 0.3, 0.2, 0.3, 0.3, 0.3, 0.4, 0.3, 0.3, 0.3,
    0.2, 0.3, 0.3, 0.3, 0.4, 0.3, 0.3, 0.2, 0.3, 0.3, 0.3, 0.4, 0.3, 0.3, 0.3, 0.2, 0.3,
    0.3, 0.3, 0.4, 0.3, 0.3, 0.3, 0.3, 0.4, 0.3, 0.3, 0.4, 0.3, 0.4, 0.4, 0.3, 0.4, 0.4,
    0.4, 0.4, 0.4, 0.4, 0.4, 0.5, 0.5, 0.5, 0.5, 0.5, 0.6, 0.6, 0.6, 0.7, 0.7, 0.8, 0.8,
    0.9, 0.9, 1.0, 1.1, 1.2, 1.3, 1.2, 1.2, 1.1, 1.1, 1.1, 1.0, 1.0, 1.0, 1.0, 0.9, 0.9,
    0.9, 0.9, 0.9, 0.9, 0.8, 0.8, 0.8, 0.8, 0.8, 0.8, 0.8, 0.7, 0.7, 0.7, 0.7, 0.7, 0.7,
    0.7, 0.7, 0.7, 0.6, 0.6, 0.6, 0.6, 0.6, 0.6, 0.6, 0.6, 0.6, 0.6, 0.6, 0.5, 0.5, 0.5,
]
bg_27 = [
    1.6, 1.5, 1.7, 1.5, 1.4, 1.6, 1.4, 1.3, 1.5, 1.3, 1.2, 1.4, 1.3, 1.2, 1.3, 1.2, 1.1,
    1.3, 1.2, 1.1, 1.2, 1.1, 1.4, 1.9, 1.6, 1.4, 1.3, 1.2, 1.3, 1.2, 1.1, 1.2, 1.1, 1.0,
    1.2, 1.1, 1.0, 1.1, 1.3, 1.8, 2.6, 2.1, 1.8, 1.6, 1.5, 1.7, 1.5, 1.4, 1.6, 1.4, 1.3,
    1.5, 1.4, 1.6, 1.9, 2.4, 3.1, 4.2, 5.6, 6.8, 5.4, 4.6, 5.2, 4.4, 3.9, 4.5, 6.2, 5.1,
    4.4, 3.9, 3.6, 4.1, 3.7, 3.4, 3.8, 3.5, 3.2, 3.6, 3.3, 3.0, 3.4, 3.1, 2.9, 3.3, 3.0,
    2.8, 3.2, 2.9, 2.7, 3.1, 3.8, 3.4, 3.1, 2.9, 3.3, 3.0, 2.8, 2.6, 2.9, 2.7, 2.5, 2.8,
    2.6, 2.4, 2.7, 2.5, 2.3, 2.6, 2.4, 2.2, 2.5, 2.3, 2.1, 2.4, 2.2, 2.0, 2.3, 2.1, 2.0,
    2.2, 2.0, 1.9, 2.1, 1.9, 1.8, 2.0, 1.8, 1.7, 1.9, 1.7, 1.6, 1.8, 1.7, 1.6, 1.7, 1.6,
]
bg_28 = [
    0.7, 0.8, 0.7, 0.6, 0.7, 0.8, 0.7, 0.6, 0.7, 0.6, 0.7, 0.8, 0.7, 0.6, 0.7, 0.6, 0.6,
    0.7, 0.6, 0.7, 0.6, 0.6, 0.7, 0.6, 0.7, 0.8, 1.1, 0.9, 0.8, 0.7, 0.8, 0.7, 0.7, 0.6,
    0.7, 0.6, 0.7, 0.6, 0.7, 0.8, 0.7, 0.6, 0.7, 0.8, 0.9, 0.8, 0.9, 1.0, 0.9, 1.1, 1.0,
    1.2, 1.1, 1.3, 1.5, 1.4, 1.7, 1.6, 1.9, 2.2, 2.0, 2.4, 2.8, 2.6, 3.1, 2.9, 3.4, 3.2,
    3.6, 3.3, 3.9, 4.4, 4.0, 3.7, 4.2, 4.8, 4.4, 4.0, 4.5, 5.1, 4.7, 5.4, 6.0, 5.5, 6.3,
    7.0, 6.4, 5.9, 6.6, 7.8, 7.1, 6.5, 6.0, 6.7, 7.4, 6.8, 6.2, 5.7, 5.3, 5.8, 5.4, 5.0,
    4.7, 5.2, 4.8, 4.5, 4.2, 4.6, 4.3, 4.0, 3.8, 4.1, 3.8, 3.6, 3.4, 3.7, 3.5, 3.3, 3.1,
    3.4, 3.2, 3.0, 2.9, 3.1, 2.9, 2.8, 2.6, 2.8, 2.7, 2.5, 2.4, 2.6, 2.5, 2.3, 2.4, 2.3,
]
bg_29 = [
    2.6, 2.4, 2.3, 2.2, 2.6, 3.4, 4.5, 6.1, 4.3, 3.4, 2.9, 2.7, 2.5, 2.4, 2.3, 2.2, 2.1,
    2.0, 2.2, 2.1, 2.0, 1.9, 2.3, 3.6, 6.0, 4.1, 3.2, 2.8, 2.6, 2.4, 2.3, 2.2, 2.1, 2.0,
    1.9, 2.2, 3.3, 5.8, 4.0, 3.1, 2.7, 2.5, 2.3, 2.2, 2.1, 2.0, 1.9, 1.9, 1.8, 1.8, 1.7,
    1.7, 1.8, 1.7, 1.6, 1.6, 1.7, 1.6, 1.5, 1.6, 1.5, 1.5, 1.6, 1.5, 1.4, 1.5, 1.4, 1.4,
    1.5, 1.4, 1.3, 1.4, 1.6, 2.0, 1.8, 1.6, 1.5, 1.4, 1.5, 1.4, 1.3, 1.4, 1.3, 1.3, 1.4,
    1.3, 1.2, 1.3, 1.5, 1.9, 1.7, 1.5, 1.4, 1.3, 1.4, 1.3, 1.2, 1.3, 1.2, 1.2, 1.3, 1.2,
    1.1, 1.2, 1.1, 1.1, 1.2, 1.1, 1.0, 1.1, 1.0, 1.0, 1.1, 1.0, 0.9, 1.0, 0.9, 0.9, 1.0,
    0.9, 0.9, 0.8, 0.9, 0.8, 0.8, 0.9, 0.8, 0.8, 0.8, 0.7, 0.8, 0.7, 0.7, 0.8, 0.7, 0.7,
]
bg_30 = [
    1.1, 1.0, 1.1, 1.0, 0.9, 1.0, 0.9, 1.0, 0.9, 0.9, 1.0, 0.9, 0.8, 0.9, 0.8, 0.9, 0.8,
    0.8, 0.9, 0.8, 0.8, 0.9, 0.8, 0.8, 0.9, 0.8, 0.8, 0.9, 0.8, 0.8, 0.9, 0.8, 0.8, 0.9,
    0.8, 0.9, 1.0, 0.9, 1.1, 1.3, 1.1, 1.2, 1.4, 1.6, 1.4, 1.8, 2.2, 1.9, 2.5, 3.2, 2.7,
    2.4, 3.0, 3.8, 5.5, 8.0, 9.6, 6.4, 4.9, 4.2, 3.8, 3.5, 3.7, 3.4, 3.2, 3.5, 3.3, 3.1,
    3.4, 3.2, 3.0, 3.3, 3.9, 3.5, 3.2, 3.0, 3.4, 4.2, 3.7, 3.4, 3.1, 3.5, 3.2, 3.6, 4.3,
    3.9, 3.6, 4.1, 4.8, 4.3, 4.0, 4.6, 5.4, 4.8, 4.4, 5.2, 6.3, 7.6, 9.8, 7.2, 5.8, 5.0,
    4.5, 4.1, 3.8, 4.2, 3.9, 3.6, 3.4, 3.8, 3.5, 3.3, 3.1, 3.5, 4.4, 6.0, 4.6, 3.9, 3.5,
    3.2, 3.0, 3.3, 3.0, 2.8, 2.7, 2.9, 2.7, 2.6, 2.5, 2.7, 2.5, 2.4, 2.3, 2.5, 2.3, 2.2,
]
bg_31 = [
    1.9, 1.8, 2.0, 1.7, 1.8, 1.6, 1.7, 1.9, 1.6, 1.5, 1.7, 1.6, 1.5, 1.4, 1.6, 1.5, 1.4,
    1.5, 1.4, 1.3, 1.5, 1.4, 1.3, 1.2, 1.4, 1.3, 1.5, 1.8, 1.6, 1.4, 1.3, 1.4, 1.3, 1.2,
    1.3, 1.2, 1.1, 1.3, 1.2, 1.1, 1.2, 1.1, 1.0, 1.2, 1.1, 1.0, 1.1, 1.0, 1.1, 1.0, 0.9,
    1.0, 1.1, 1.0, 1.2, 1.1, 1.3, 1.2, 1.4, 1.6, 1.5, 1.3, 1.4, 1.6, 1.9, 1.7, 1.5, 1.6,
    1.8, 2.1, 1.9, 1.7, 1.8, 2.0, 2.3, 2.1, 1.9, 2.0, 2.2, 2.5, 2.3, 2.1, 2.2, 2.4, 2.2,
    2.0, 2.1, 2.3, 2.6, 2.4, 2.2, 2.3, 2.5, 2.8, 2.6, 2.4, 2.5, 2.3, 2.1, 2.2, 2.0, 1.9,
    2.0, 1.9, 1.8, 1.9, 1.8, 1.7, 1.8, 1.9, 1.7, 1.6, 1.7, 1.6, 1.5, 1.6, 1.5, 1.6, 1.5,
    1.4, 1.5, 1.4, 1.3, 1.4, 1.3, 1.4, 1.3, 1.2, 1.3, 1.2, 1.3, 1.2, 1.1, 1.2, 1.1, 1.2,
]
bg_32 = [
    0.4, 0.3, 0.4, 0.3, 0.3, 0.4, 0.3, 0.3, 0.4, 0.3, 0.3, 0.3, 0.4, 0.3, 0.3, 0.3, 0.3,
    0.3, 0.4, 0.3, 0.3, 0.3, 0.3, 0.4, 0.3, 0.3, 0.3, 0.3, 0.3, 0.4, 0.3, 0.3, 0.3, 0.3,
    0.3, 0.3, 0.3, 0.4, 0.3, 0.3, 0.3, 0.3, 0.3, 0.4, 0.3, 0.3, 0.3, 0.3, 0.3, 0.3, 0.4,
    0.3, 0.3, 0.3, 0.3, 0.4, 0.3, 0.3, 0.4, 0.4, 0.3, 0.4, 0.4, 0.4, 0.5, 0.4, 0.4, 0.5,
    0.5, 0.5, 0.6, 0.5, 0.6, 0.7, 0.6, 0.7, 0.8, 0.7, 0.8, 0.9, 0.8, 0.9, 1.1, 1.0, 1.1,
    1.3, 1.2, 1.4, 1.6, 1.5, 1.4, 1.5, 1.7, 1.6, 1.4, 1.3, 1.4, 1.3, 1.2, 1.1, 1.2, 1.1,
    1.0, 1.1, 1.0, 0.9, 1.0, 0.9, 0.9, 0.8, 0.9, 0.8, 0.8, 0.9, 0.8, 0.7, 0.8, 0.7, 0.7,
    0.8, 0.7, 0.7, 0.6, 0.7, 0.6, 0.6, 0.7, 0.6, 0.6, 0.5, 0.6, 0.5, 0.5, 0.6, 0.5, 0.5,
]
bg_33 = [
    1.4, 1.5, 1.4, 1.3, 1.4, 1.3, 1.2, 1.3, 1.4, 1.3, 1.2, 1.3, 1.2, 1.2, 1.3, 1.2, 1.1,
    1.2, 1.1, 1.2, 1.3, 1.2, 1.1, 1.2, 1.1, 1.2, 1.3, 1.2, 1.1, 1.2, 1.1, 1.2, 1.3, 1.2,
    1.3, 1.4, 1.3, 1.5, 1.7, 1.6, 1.9, 2.3, 2.1, 2.6, 3.4, 4.6, 7.4, 5.0, 3.9, 3.3, 3.0,
    2.8, 2.6, 2.7, 2.5, 2.4, 2.6, 2.4, 2.3, 2.5, 2.3, 2.2, 2.4, 2.6, 2.4, 2.3, 2.5, 2.8,
    2.6, 2.5, 2.7, 3.0, 2.8, 2.6, 2.9, 3.3, 3.0, 2.8, 3.1, 3.6, 3.3, 4.2, 5.6, 7.8, 5.4,
    4.4, 3.9, 3.6, 3.9, 3.5, 3.3, 3.6, 3.3, 3.1, 3.4, 3.1, 2.9, 3.2, 3.0, 2.8, 3.1, 3.4,
    3.2, 3.0, 3.3, 3.1, 3.6, 4.4, 6.0, 7.6, 5.4, 4.3, 3.8, 3.5, 3.2, 3.0, 2.9, 2.8, 2.7,
    2.6, 2.5, 2.4, 2.5, 2.3, 2.2, 2.3, 2.1, 2.0, 2.1, 2.0, 1.9, 2.0, 1.9, 1.8, 1.9, 1.8,
]
bg_34 = [
    0.9, 1.0, 0.9, 0.8, 0.9, 0.8, 0.8, 0.9, 0.8, 0.7, 0.8, 0.9, 1.2, 1.0, 0.9, 0.8, 0.8,
    0.7, 0.8, 0.7, 0.8, 0.7, 0.7, 0.8, 0.7, 0.7, 0.8, 0.7, 0.6, 0.7, 0.7, 0.6, 0.7, 0.6,
    0.7, 0.6, 0.7, 0.6, 0.6, 0.7, 0.6, 0.7, 0.6, 0.6, 0.7, 0.6, 0.7, 0.8, 0.7, 0.8, 0.9,
    0.8, 0.9, 1.0, 0.9, 1.1, 1.0, 1.2, 1.1, 1.3, 1.5, 1.3, 1.2, 1.4, 1.3, 1.5, 1.8, 1.6,
    1.4, 1.5, 1.7, 1.5, 1.4, 1.6, 1.9, 1.7, 1.5, 1.6, 1.8, 1.6, 1.5, 1.7, 2.0, 1.8, 1.7,
    1.9, 2.2, 2.0, 1.8, 1.9, 2.1, 1.9, 1.8, 2.0, 2.4, 2.1, 1.9, 1.8, 1.9, 1.7, 1.6, 1.7,
    1.6, 1.5, 1.6, 1.5, 1.4, 1.5, 1.4, 1.3, 1.4, 1.3, 1.4, 1.3, 1.2, 1.3, 1.2, 1.2, 1.1,
    1.2, 1.1, 1.2, 1.1, 1.0, 1.1, 1.0, 1.1, 1.0, 0.9, 1.0, 0.9, 1.0, 0.9, 0.9, 0.9, 0.8,
]
bg_35 = [
    1.0, 1.1, 1.0, 0.9, 1.0, 0.9, 1.0, 0.9, 0.9, 1.0, 0.9, 0.9, 1.0, 0.9, 0.9, 1.0, 0.9,
    0.9, 1.0, 0.9, 1.0, 1.1, 1.0, 1.2, 1.5, 2.0, 3.0, 4.8, 9.0, 5.2, 3.6, 2.9, 2.5, 2.3,
    2.1, 2.0, 1.9, 2.0, 1.8, 1.7, 1.8, 1.7, 1.6, 1.7, 1.6, 1.5, 1.6, 1.5, 1.6, 1.8, 2.2,
    3.2, 8.1, 4.6, 3.4, 2.9, 2.7, 2.9, 3.6, 4.8, 6.4, 9.2, 5.6, 4.3, 3.7, 3.4, 3.2, 3.0,
    2.9, 3.1, 2.9, 2.7, 2.9, 3.3, 3.0, 2.8, 3.0, 2.8, 2.6, 2.8, 3.1, 2.9, 2.7, 2.9, 2.7,
    2.6, 2.8, 3.2, 2.9, 2.7, 2.9, 2.7, 2.5, 2.7, 2.5, 2.4, 2.6, 2.4, 2.3, 2.5, 2.3, 2.2,
    2.4, 2.2, 2.1, 2.3, 2.1, 2.0, 2.2, 2.0, 1.9, 2.1, 1.9, 1.8, 2.0, 1.8, 1.7, 1.9, 1.7,
    1.6, 1.8, 1.6, 1.5, 1.7, 1.5, 1.4, 1.6, 1.5, 1.4, 1.5, 1.4, 1.3, 1.4, 1.3, 1.3, 1.4,
]
bg_36 = [
    0.6, 0.6, 0.7, 0.6, 0.6, 0.6, 0.7, 0.6, 0.6, 0.6, 0.6, 0.7, 0.6, 0.6, 0.6, 0.6, 0.6,
    0.6, 0.7, 0.6, 0.6, 0.6, 0.6, 0.6, 0.7, 0.6, 0.6, 0.6, 0.6, 0.6, 0.6, 0.7, 0.6, 0.6,
    0.6, 0.6, 0.6, 0.7, 0.6, 0.6, 0.6, 0.6, 0.7, 0.6, 0.7, 0.7, 0.7, 0.8, 0.7, 0.8, 0.8,
    0.9, 0.8, 0.9, 1.0, 0.9, 1.1, 1.0, 1.2, 1.1, 1.3, 1.2, 1.4, 1.3, 1.5, 1.7, 1.6, 1.8,
    2.0, 1.9, 2.2, 2.1, 2.4, 2.3, 2.6, 2.5, 2.8, 2.7, 3.0, 2.9, 3.2, 3.1, 3.4, 3.3, 3.6,
    3.5, 3.8, 3.6, 3.9, 4.2, 4.0, 4.3, 4.6, 4.4, 4.7, 5.0, 4.8, 5.2, 5.0, 5.4, 5.2, 5.6,
    5.4, 5.8, 5.5, 5.9, 6.3, 6.0, 5.7, 6.1, 5.8, 5.5, 5.9, 5.6, 6.0, 6.6, 7.4, 8.9, 7.0,
    6.2, 5.8, 6.3, 5.9, 6.5, 7.2, 8.4, 6.9, 6.1, 5.7, 6.4, 5.9, 5.5, 8.2, 6.3, 5.5, 5.1,
]
bg_37 = [
    1.7, 1.6, 1.5, 1.6, 1.5, 1.4, 1.5, 1.4, 1.3, 1.4, 1.3, 1.4, 1.3, 1.2, 1.3, 1.2, 1.2,
    1.3, 1.2, 1.1, 1.2, 1.1, 1.2, 1.1, 1.1, 1.2, 1.1, 1.0, 1.1, 1.0, 1.1, 1.0, 1.0, 1.1,
    1.0, 1.0, 1.1, 1.0, 0.9, 1.0, 1.0, 0.9, 1.0, 0.9, 1.0, 1.1, 1.0, 1.1, 1.2, 1.1, 1.2,
    1.3, 1.2, 1.4, 1.3, 1.5, 1.4, 1.6, 1.5, 1.7, 1.9, 1.8, 2.0, 1.9, 2.1, 2.0, 2.2, 2.4,
    2.3, 2.5, 2.4, 2.6, 2.8, 2.7, 2.9, 3.2, 3.6, 4.4, 3.8, 3.4, 3.2, 3.0, 3.1, 2.9, 2.8,
    2.9, 2.7, 2.8, 2.6, 2.7, 2.9, 2.7, 2.6, 2.8, 3.0, 2.8, 2.7, 2.9, 3.2, 3.6, 4.1, 4.6,
    4.9, 4.3, 3.8, 3.5, 3.3, 3.1, 3.0, 2.9, 2.8, 2.7, 2.6, 2.7, 2.5, 2.4, 2.5, 2.3, 2.2,
    2.3, 2.1, 2.0, 2.1, 1.9, 1.9, 2.0, 1.8, 1.7, 1.8, 1.7, 1.6, 1.7, 1.6, 1.5, 1.6, 1.5,
]
bg_38 = [
    1.8, 1.7, 1.8, 1.6, 1.7, 1.6, 1.5, 1.6, 1.8, 2.4, 4.2, 6.8, 3.9, 2.9, 2.5, 2.3, 2.1,
    2.0, 1.9, 2.0, 1.8, 1.9, 1.8, 1.7, 1.8, 1.7, 1.6, 1.7, 1.6, 1.7, 1.9, 2.3, 3.2, 4.6,
    6.6, 4.2, 3.2, 2.7, 2.5, 2.3, 2.2, 2.1, 2.0, 2.1, 1.9, 1.8, 1.9, 1.8, 1.7, 1.8, 1.7,
    1.6, 1.7, 1.6, 1.7, 1.8, 1.7, 1.9, 2.1, 2.0, 2.3, 2.6, 3.4, 4.4, 5.6, 7.0, 5.2, 4.1,
    3.6, 3.3, 3.1, 3.2, 3.0, 2.9, 3.1, 2.9, 2.8, 3.0, 2.8, 2.7, 2.9, 2.7, 2.6, 2.8, 3.0,
    2.9, 3.1, 3.0, 3.2, 3.5, 3.3, 3.6, 4.2, 5.0, 5.8, 6.6, 5.4, 4.5, 4.0, 3.7, 3.5, 3.3,
    3.2, 3.0, 3.1, 2.9, 2.8, 3.0, 2.8, 2.7, 2.6, 2.8, 2.6, 2.5, 2.4, 2.6, 2.4, 2.3, 2.2,
    2.4, 2.2, 2.1, 2.3, 2.1, 2.0, 2.1, 2.0, 1.9, 2.0, 1.9, 1.8, 1.9, 1.8, 1.7, 1.8, 1.7,
]
bg_39 = [
    0.9, 0.8, 0.9, 0.8, 0.8, 0.8, 0.9, 0.8, 0.8, 0.7, 0.8, 0.7, 0.8, 0.7, 0.7, 0.8, 0.7,
    0.7, 0.7, 0.8, 0.7, 0.7, 0.7, 0.7, 0.8, 0.7, 0.7, 0.7, 0.7, 0.8, 0.7, 0.7, 0.7, 0.7,
    0.7, 0.8, 0.7, 0.7, 0.8, 0.7, 0.8, 0.8, 0.7, 0.8, 0.9, 0.8, 0.9, 0.9, 1.0, 0.9, 1.0,
    1.1, 1.0, 1.2, 1.1, 1.3, 1.2, 1.4, 1.3, 1.5, 1.7, 1.6, 1.8, 2.1, 1.9, 2.2, 2.0, 2.3,
    2.6, 2.4, 2.7, 2.5, 2.8, 3.2, 2.9, 2.7, 3.0, 2.8, 3.1, 2.9, 2.7, 3.0, 3.4, 3.1, 2.9,
    3.2, 3.0, 2.8, 3.1, 3.5, 3.2, 3.0, 3.3, 3.1, 2.9, 3.2, 3.6, 3.3, 3.1, 3.4, 3.2, 3.5,
    3.3, 3.1, 3.4, 3.8, 3.5, 3.3, 3.6, 3.4, 3.2, 3.6, 4.2, 5.2, 4.1, 3.7, 3.5, 3.3, 3.2,
    3.4, 5.0, 3.9, 3.5, 3.3, 3.1, 3.0, 3.2, 3.0, 2.8, 2.9, 2.7, 2.6, 2.8, 2.6, 2.5, 2.6,
]
bg_40 = [
    3.0, 3.4, 4.2, 5.0, 3.9, 3.4, 3.1, 2.9, 2.8, 2.7, 2.6, 2.5, 2.6, 2.4, 2.3, 2.4, 2.2,
    2.1, 2.2, 2.0, 1.9, 2.0, 1.9, 1.8, 1.9, 2.2, 2.8, 2.5, 2.3, 2.2, 2.1, 2.0, 1.9, 2.0,
    1.9, 1.8, 1.7, 1.8, 1.7, 1.6, 1.7, 1.6, 1.5, 1.6, 1.5, 1.4, 1.5, 1.4, 1.4, 1.5, 1.4,
    1.3, 1.4, 1.3, 1.3, 1.4, 1.3, 1.2, 1.3, 1.4, 1.3, 1.2, 1.3, 1.5, 1.8, 1.6, 1.5, 1.4,
    1.5, 1.4, 1.3, 1.4, 1.3, 1.4, 1.6, 1.9, 1.7, 1.5, 1.4, 1.5, 1.4, 1.3, 1.4, 1.3, 1.4,
    1.6, 1.4, 1.3, 1.4, 1.3, 1.2, 1.3, 1.4, 1.3, 1.2, 1.3, 1.2, 1.1, 1.2, 1.1, 1.2, 1.1,
    1.0, 1.1, 1.0, 1.1, 1.0, 0.9, 1.0, 0.9, 1.0, 0.9, 0.9, 1.0, 0.9, 0.8, 0.9, 0.8, 0.9,
    0.8, 0.8, 0.9, 0.8, 0.7, 0.8, 0.7, 0.8, 0.7, 0.7, 0.8, 0.7, 0.7, 0.7, 0.6, 0.7, 0.6,
]

history = [bg_01, bg_02, bg_03, bg_04, bg_05, bg_06, bg_07, bg_08, bg_09, bg_10,
           bg_11, bg_12, bg_13, bg_14, bg_15, bg_16, bg_17, bg_18, bg_19, bg_20,
           bg_21, bg_22, bg_23, bg_24, bg_25, bg_26, bg_27, bg_28, bg_29, bg_30,
           bg_31, bg_32, bg_33, bg_34, bg_35, bg_36, bg_37, bg_38, bg_39, bg_40]
# opacity of each trace (older years are faded differently in the source)
history_alpha = [0.36, 0.24, 0.12, 0.20, 0.10, 0.32, 0.17, 0.22, 0.40, 0.15,
                 0.30, 0.42, 0.17, 0.15, 0.12, 0.19, 0.20, 0.36, 0.17, 0.27,
                 0.24, 0.14, 0.27, 0.46, 0.36, 0.46, 0.30, 0.25, 0.27, 0.20,
                 0.40, 0.46, 0.25, 0.42, 0.17, 0.15, 0.35, 0.25, 0.30, 0.40]

for i, s in enumerate(history):
    assert len(s) == 136, 'series %d has %d values' % (i + 1, len(s))
assert len(q_2024) == 136 and len(history_alpha) == len(history)

fig = plt.figure(figsize=(34.52, 22.88), dpi=100)
ax = fig.add_axes([0.1034, 0.1171, 0.8734, 0.8536])

for s, a in zip(history, history_alpha):
    ax.plot(days, s, color='#7a7a7a', alpha=a, linewidth=7.5,
            solid_joinstyle='round', solid_capstyle='round', zorder=2)

ax.plot(days, q_2024, color='#595959', linewidth=11, solid_joinstyle='round',
        solid_capstyle='round', zorder=5)

# annotations: (text, text position, ha, leader lines)
navy = '#002060'
notes = [
    ('Rain Events\n(Frozen Ground)', (13.45, 8.4), 'center',
     [((9.8, 5.2), (10.8, 7.45)), ((13.4, 4.48), (12.15, 7.44))]),
    ('ROS Event\n(Frozen Ground)', (33.2, 9.0), 'left',
     [((26.1, 7.65), (32.0, 8.76))]),
    ('Rain Events', (67.3, 5.46), 'center',
     [((59.0, 3.04), (63.3, 4.86)), ((74.9, 3.69), (70.5, 4.86))]),
    ('Rain Events', (102.7, 6.8), 'center',
     [((94.3, 3.69), (97.2, 6.33)), ((102.8, 4.97), (102.8, 6.33)),
      ((108.9, 3.54), (107.3, 6.33))]),
]
for label, (tx, ty), ha, leaders in notes:
    ax.text(tx, ty, label, color=navy, fontsize=51, ha=ha, va='center',
            linespacing=1.3, zorder=7)
    for (x0, y0), (x1, y1) in leaders:
        ax.plot([x0, x1], [y0, y1], color=navy, linewidth=4.2, zorder=6,
                solid_capstyle='butt')

ax.set_xlim(1, 136)
ax.set_ylim(0, 21)
ax.xaxis.set_major_locator(FixedLocator(list(range(1, 137, 15))))
ax.xaxis.set_minor_locator(MultipleLocator(1))
ax.yaxis.set_major_locator(MultipleLocator(3))
ax.yaxis.set_major_formatter(FormatStrFormatter('%.1f'))

ax.grid(True, which='major', color='#d9d9d9', linewidth=2.2, zorder=0)
ax.set_axisbelow(True)

for side in ['top', 'right']:
    ax.spines[side].set_color('#d9d9d9')
    ax.spines[side].set_linewidth(2.2)
for side in ['left', 'bottom']:
    ax.spines[side].set_color('#8c8c8c')
    ax.spines[side].set_linewidth(3.8)
    ax.spines[side].set_zorder(8)

ax.tick_params(axis='x', which='major', length=11, width=1.8, color='#8c8c8c',
               pad=30, labelsize=47)
ax.tick_params(axis='x', which='minor', length=7, width=1.8, color='#8c8c8c')
ax.tick_params(axis='y', which='major', length=0, pad=40, labelsize=47)

ax.set_xlabel('Julian Day, Jan 1 = 1, May 16 = 136', fontsize=51.5,
              fontweight='bold')
ax.xaxis.set_label_coords(0.468, -0.099)
ax.xaxis.label.set_va('center')
ax.set_ylabel('Discharge (m³/s)', fontsize=58, fontweight='bold')
ax.yaxis.set_label_coords(-0.093, 0.493)
ax.yaxis.label.set_va('center')

handles = [Line2D([], [], color='#d9d9d9', linewidth=14),
           Line2D([], [], color='#595959', linewidth=14)]
ax.legend(handles, ['1959-2023', '2024'], loc='upper left',
          bbox_to_anchor=(0.7285, 0.912), frameon=False, fontsize=52,
          handlelength=2.85, handletextpad=0.75, labelspacing=0.9,
          borderpad=0, borderaxespad=0)

fig.savefig('out.png', dpi=100)
